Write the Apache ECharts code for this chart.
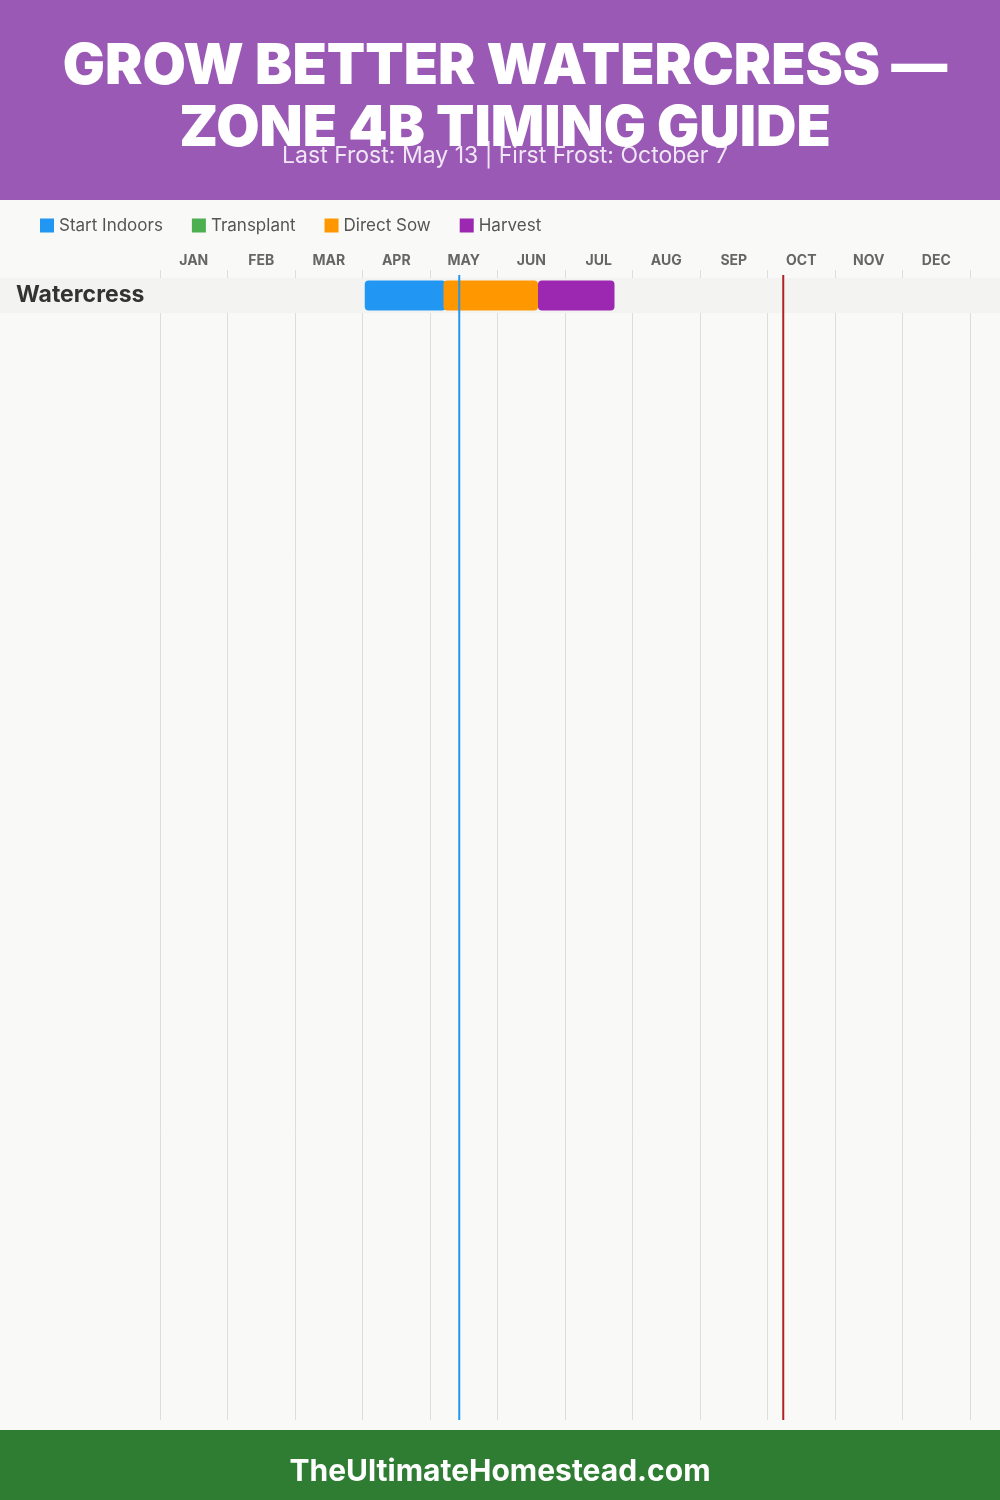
<!DOCTYPE html>
<html><head><meta charset="utf-8">
<script src="https://cdn.jsdelivr.net/npm/echarts@6/dist/echarts.min.js"></script>
<style>html,body{margin:0;padding:0;background:#f9f9f7}#c{width:1000px;height:1500px}</style>
</head><body><div id="c"></div>
<script>
const months = ['JAN','FEB','MAR','APR','MAY','JUN','JUL','AUG','SEP','OCT','NOV','DEC'];
const crops = ['Watercress'];
const phases = ['Start Indoors','Transplant','Direct Sow','Harvest'];
const phaseColors = ['#2196f3','#4caf50','#ff9800','#9c27b0'];
// [cropIndex, startMonth, startDay, endMonth, endDay]
const startIndoors = [[0, 4, 1, 5, 7]];
const transplant = [];
const directSow = [[0, 5, 6, 6, 18]];
const harvest = [[0, 6, 18, 7, 22]];
const lastFrost = [5, 13];
const firstFrost = [10, 7];
const titleText = 'GROW BETTER WATERCRESS —\nZONE 4B TIMING GUIDE';
const subtitleText = 'Last Frost: May 13 | First Frost: October 7';
const footerText = 'TheUltimateHomestead.com';

const pos = (m, d) => (m - 1) + d / 30;
const phaseData = [startIndoors, transplant, directSow, harvest];
const FONT = 'Inter, "Noto Sans", sans-serif';

function renderBar(params, api) {
  const s = api.value(0), e = api.value(1), row = api.value(2);
  const p0 = api.coord([s, row]);
  const p1 = api.coord([e, row]);
  const h = api.size([0, 1])[1] * 0.86;
  return {type: 'rect', shape: {x: p0[0], y: p0[1] - h / 2, width: p1[0] - p0[0], height: h, r: 4},
          style: {fill: api.visual('color')}};
}
function renderBand(params, api) {
  const c = api.coord([0, api.value(1)]);
  const h = api.size([0, 1])[1];
  return {type: 'rect', shape: {x: 0, y: c[1] - h / 2, width: api.getWidth(), height: h},
          style: {fill: '#f3f3f2'}};
}
function renderFrost(params, api) {
  const top = api.coord([api.value(0), 1]);
  const bot = api.coord([api.value(0), 0]);
  return {type: 'line', shape: {x1: top[0], y1: top[1] + 5, x2: bot[0], y2: bot[1]},
          style: {stroke: api.value(1) === 0 ? '#2196f3' : '#b22222', lineWidth: 2}};
}

const series = [
  {type: 'custom', name: 'band', xAxisIndex: 2, yAxisIndex: 1, z: 1, silent: true,
   data: crops.map((c, i) => [0, i]), encode: {x: 0, y: 1}, renderItem: renderBand, clip: false}
];
phases.forEach((p, k) => {
  series.push({type: 'custom', name: p, xAxisIndex: 2, yAxisIndex: 1, z: 3 + k,
    itemStyle: {color: phaseColors[k]},
    data: phaseData[k].map(r => [pos(r[1], r[2]), pos(r[3], r[4]), r[0]]),
    encode: {x: [0, 1], y: 2}, renderItem: renderBar});
});
series.push({type: 'custom', name: 'frost', xAxisIndex: 1, yAxisIndex: 0, z: 20, silent: true,
  data: [[pos(lastFrost[0], lastFrost[1]), 0], [pos(firstFrost[0], firstFrost[1]), 1]],
  encode: {x: 0}, renderItem: renderFrost, clip: false});

const chart = echarts.init(document.getElementById('c'), null, {renderer: 'canvas'});
chart.setOption({
  backgroundColor: '#f9f9f7',
  animation: false,
  textStyle: {fontFamily: FONT},
  graphic: [
    {type: 'rect', z: -10, shape: {x: 0, y: 0, width: 1000, height: 200}, style: {fill: '#9b59b6'}},
    {type: 'rect', z: -10, shape: {x: 0, y: 1430, width: 1000, height: 70}, style: {fill: '#2e7d32'}},
    {type: 'text', z: 10, x: 500, y: 1472, style: {text: footerText, fill: '#fff', font: '700 30px ' + FONT,
      textAlign: 'center', textVerticalAlign: 'middle'}}
  ],
  title: [
    {text: titleText, left: 500, top: 31, textAlign: 'center',
     textStyle: {color: '#fff', fontSize: 56, fontWeight: 900, lineHeight: 62, fontFamily: FONT}},
    {text: subtitleText, left: 500, top: 140, textAlign: 'center',
     textStyle: {color: 'rgba(255,255,255,0.85)', fontSize: 23, fontWeight: 400, fontFamily: FONT}}
  ],
  legend: {data: phases, left: 35, top: 212, icon: 'rect', itemWidth: 14, itemHeight: 14, itemGap: 29,
    textStyle: {fontSize: 17, color: '#555', fontFamily: FONT}, selectedMode: false},
  grid: [
    {left: 160, right: 30, top: 270, bottom: 80},
    {left: 160, right: 30, top: 278, height: 35 * crops.length}
  ],
  xAxis: [
    {type: 'category', gridIndex: 0, data: months, position: 'top', boundaryGap: true,
     axisLine: {show: false}, axisTick: {show: false},
     axisLabel: {interval: 0, color: '#666', fontWeight: 700, fontSize: 14, margin: 2, fontFamily: FONT},
     splitLine: {show: true, interval: 0, lineStyle: {color: '#dddddd', width: 1}}},
    {type: 'value', gridIndex: 0, min: 0, max: 12, show: false},
    {type: 'value', gridIndex: 1, min: 0, max: 12, show: false}
  ],
  yAxis: [
    {type: 'value', gridIndex: 0, min: 0, max: 1, show: false},
    {type: 'category', gridIndex: 1, data: crops, inverse: true, z: 10,
     axisLine: {show: false}, axisTick: {show: false}, splitLine: {show: false},
     axisLabel: {align: 'left', margin: 144, color: '#333', fontSize: 23, fontWeight: 700, fontFamily: FONT}}
  ],
  series: series
});
</script></body></html>
